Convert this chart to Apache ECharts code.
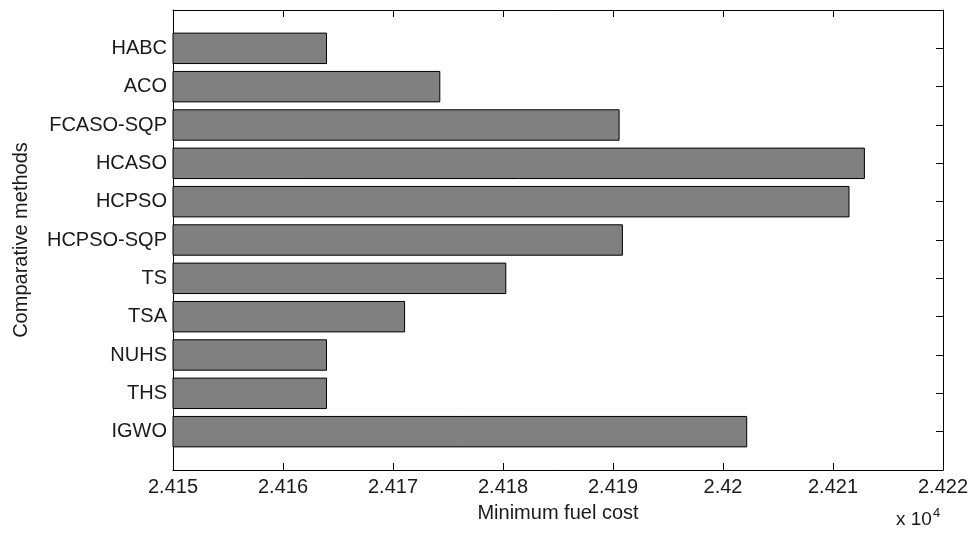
<!DOCTYPE html>
<html>
<head>
<meta charset="utf-8">
<script src="https://cdn.jsdelivr.net/npm/echarts@6/dist/echarts.min.js"></script>
<style>
html,body{margin:0;padding:0;background:#fff;}
#c{width:969px;height:533px;}
</style>
</head>
<body>
<div id="c"></div>
<script>
// Data (minimum fuel cost, actual units; axis labels shown in x 10^4)
const categories = ['HABC','ACO','FCASO-SQP','HCASO','HCPSO','HCPSO-SQP','TS','TSA','NUHS','THS','IGWO'];
const fuelCost = [24164.0, 24174.3, 24190.6, 24212.9, 24211.5, 24190.9, 24180.3, 24171.1, 24164.0, 24164.0, 24202.2];
const xMin = 24150, xMax = 24220, xInterval = 10;
const xTitle = 'Minimum fuel cost';
const yTitle = 'Comparative methods';

const FONT = "'Liberation Sans', Arial, sans-serif";
const TXT = '#1a1a1a';

// pad with empty slots at both ends (like MATLAB's ylim [0, n+1])
const axisCats = [''].concat(categories, ['']);
const seriesData = ['-'].concat(fuelCost, ['-']);

const fmt = v => String(+(v / 1e4).toFixed(4));

const chart = echarts.init(document.getElementById('c'), null, {renderer: 'canvas'});
const lineStyle = {color: '#000', width: 1};
chart.setOption({
  backgroundColor: '#fff',
  animation: false,
  grid: {left: 173, right: 26, top: 10, bottom: 63, containLabel: false, outerBoundsMode: 'none'},
  xAxis: [{
    type: 'value', min: xMin, max: xMax, interval: xInterval, position: 'bottom',
    name: xTitle, nameLocation: 'middle', nameGap: 33,
    nameTextStyle: {fontFamily: FONT, fontSize: 20, color: TXT},
    axisLine: {show: true, lineStyle},
    axisTick: {show: true, inside: true, length: 7, lineStyle},
    axisLabel: {formatter: fmt, fontFamily: FONT, fontSize: 20, color: TXT, margin: 7},
    splitLine: {show: false}
  }, {
    type: 'value', min: xMin, max: xMax, interval: xInterval, position: 'top',
    axisLine: {show: true, lineStyle},
    axisTick: {show: true, inside: true, length: 7, lineStyle},
    axisLabel: {show: false},
    splitLine: {show: false}
  }],
  yAxis: [{
    type: 'category', data: axisCats, inverse: true, boundaryGap: false, position: 'left',
    name: yTitle, nameLocation: 'middle', nameGap: 142,
    nameTextStyle: {fontFamily: FONT, fontSize: 20, color: TXT},
    axisLine: {show: true, lineStyle},
    axisTick: {show: true, inside: true, length: 7, lineStyle, alignWithLabel: true},
    axisLabel: {fontFamily: FONT, fontSize: 20, color: TXT, margin: 6, interval: 0},
    splitLine: {show: false}
  }, {
    type: 'category', data: axisCats, inverse: true, boundaryGap: false, position: 'right',
    axisLine: {show: true, lineStyle},
    axisTick: {show: true, inside: true, length: 7, lineStyle, interval: 0},
    axisLabel: {show: false},
    splitLine: {show: false}
  }],
  series: [{
    type: 'bar',
    xAxisIndex: 0, yAxisIndex: 0,
    data: seriesData,
    barWidth: '82%',
    itemStyle: {color: '#808080', borderColor: '#000', borderWidth: 1}
  }],
  graphic: [{
    type: 'text', left: 896, top: 507,
    style: {
      text: 'x 10{sup|4}',
      fontFamily: FONT, fontSize: 19, fill: TXT,
      rich: {sup: {fontFamily: FONT, fontSize: 13, fill: TXT, verticalAlign: 'top', padding: [0,0,12,1]}}
    }
  }]
});
</script>
</body>
</html>
